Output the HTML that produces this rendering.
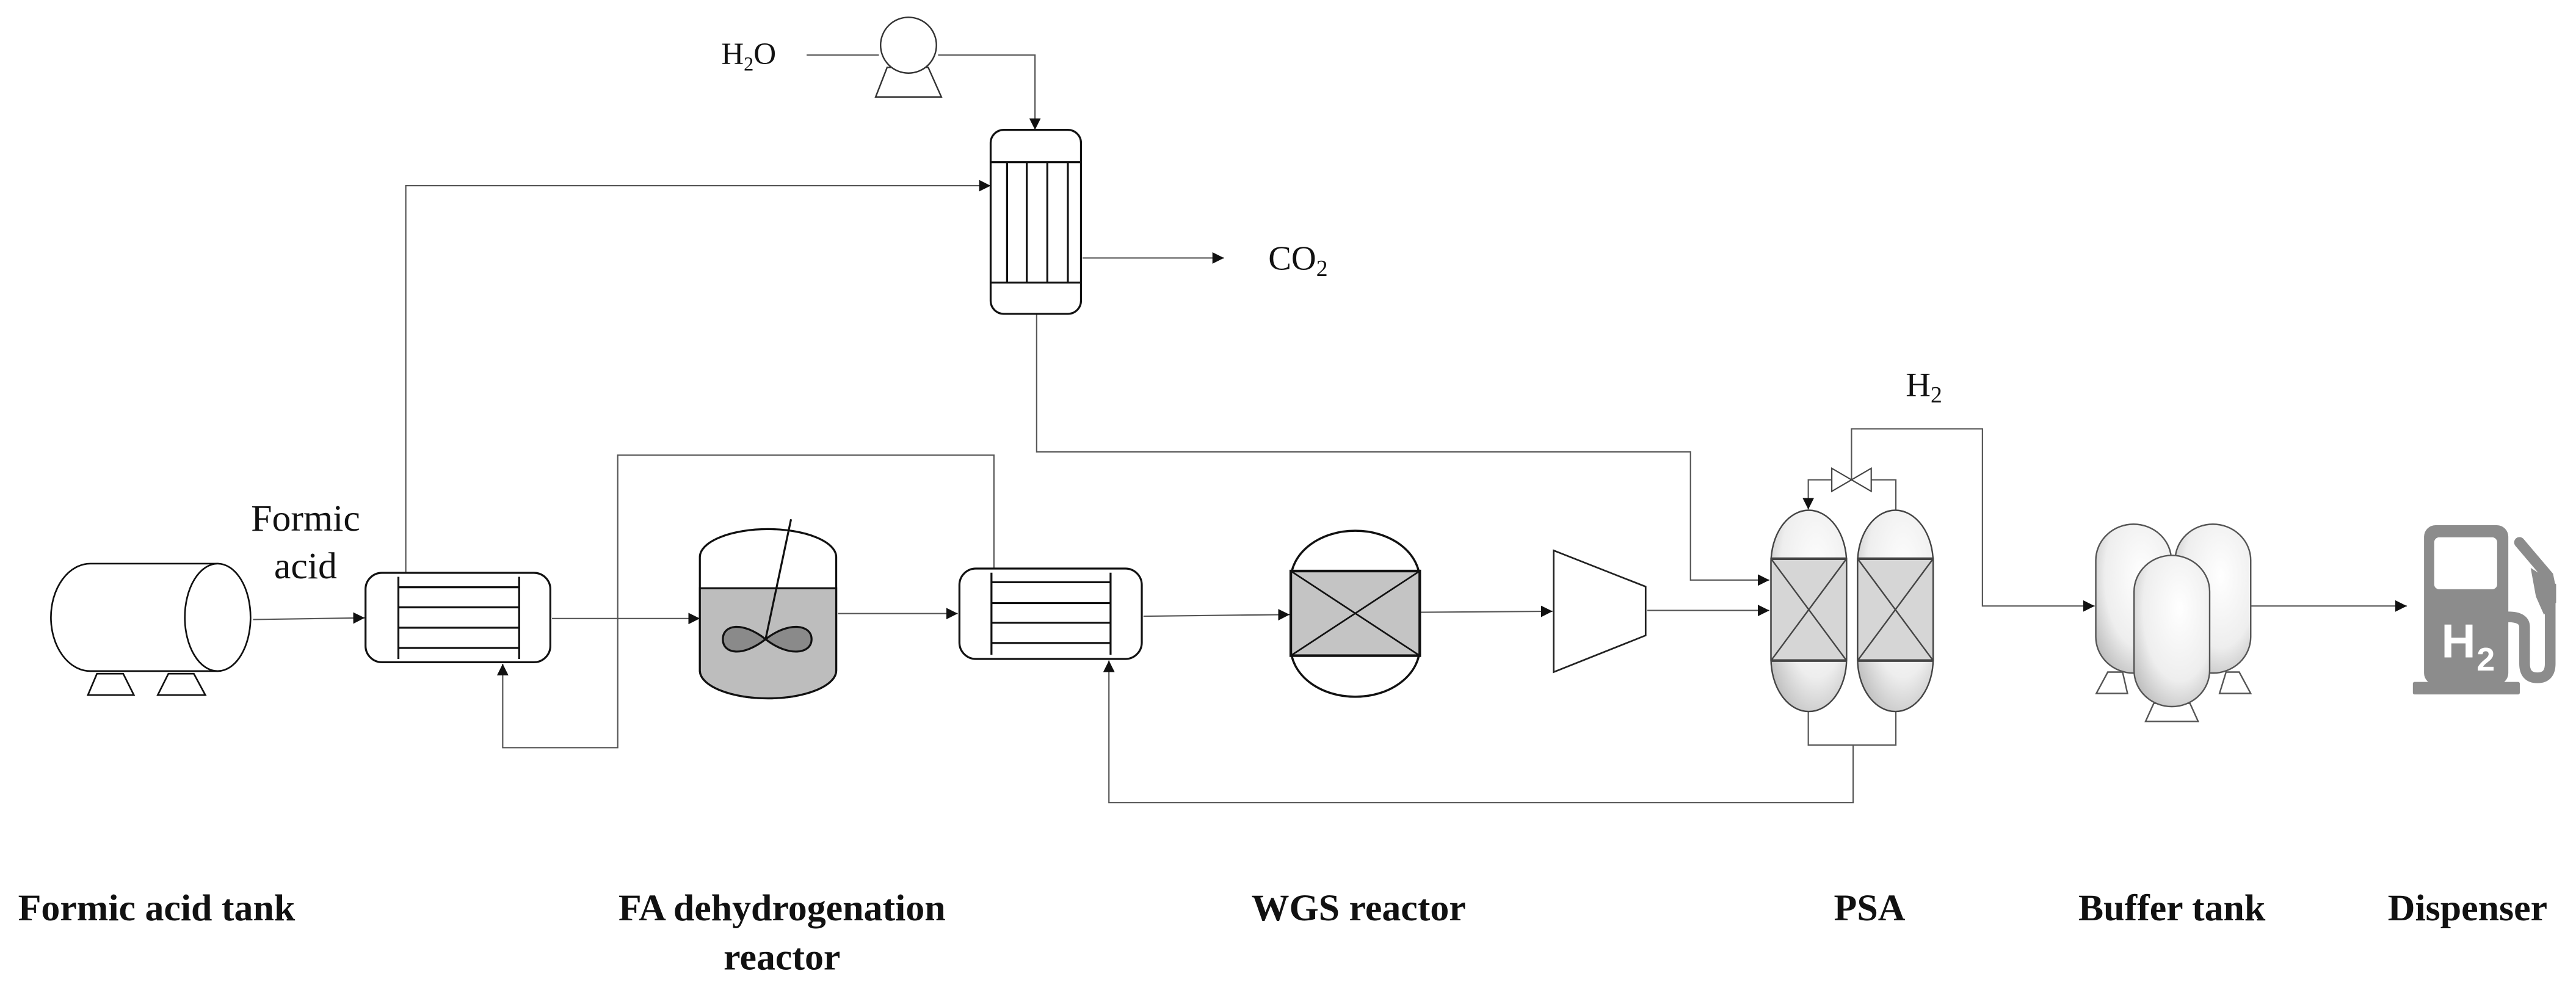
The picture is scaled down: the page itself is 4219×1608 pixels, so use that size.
<!DOCTYPE html>
<html><head><meta charset="utf-8"><style>html,body{margin:0;padding:0;background:#fff}svg{display:block}</style></head>
<body>
<svg width="4219" height="1608" viewBox="0 0 1568 597.6" xmlns="http://www.w3.org/2000/svg" font-family="'Liberation Serif',serif">
<defs>
<marker id="a" viewBox="0 0 10 10" refX="10" refY="5" markerWidth="7" markerHeight="7" markerUnits="userSpaceOnUse" orient="auto"><path d="M0,0L10,5L0,10z" fill="#111"/></marker>
<radialGradient id="g" cx="0.6" cy="0.35" r="0.8"><stop offset="0" stop-color="#fff"/><stop offset="0.6" stop-color="#eee"/><stop offset="1" stop-color="#b5b5b5"/></radialGradient>
</defs>
<rect width="1568" height="597.6" fill="#fff"/>
<g fill="none" stroke="#555" stroke-width="0.8">
<line x1="491" y1="33.5" x2="535" y2="33.5"/>
<polyline points="571,33.5 630,33.5 630,79" marker-end="url(#a)"/>
<polyline points="247,348 247,113 603,113" marker-end="url(#a)"/>
<line x1="659" y1="157" x2="745" y2="157" marker-end="url(#a)"/>
<polyline points="631,191 631,275 1029,275 1029,353 1077,353" marker-end="url(#a)"/>
<line x1="154" y1="377" x2="222" y2="376" marker-end="url(#a)"/>
<line x1="336" y1="376.4" x2="426" y2="376.4" marker-end="url(#a)"/>
<polyline points="605,346 605,277 376,277 376,455 306,455 306,404" marker-end="url(#a)"/>
<line x1="510" y1="373.4" x2="583" y2="373.4" marker-end="url(#a)"/>
<line x1="696" y1="375" x2="785" y2="374" marker-end="url(#a)"/>
<polyline points="1128,453.4 1128,488.4 675,488.4 675,402" marker-end="url(#a)"/>
<polyline points="1100.7,433 1100.7,453.4 1154,453.4 1154,433"/>
<line x1="865" y1="372.6" x2="945" y2="372" marker-end="url(#a)"/>
<line x1="1002.7" y1="371.5" x2="1077" y2="371.5" marker-end="url(#a)"/>
<polyline points="1115,292 1100.7,292 1100.7,310" marker-end="url(#a)"/>
<polyline points="1139,292 1154,292 1154,310.5"/>
<polyline points="1127,292 1127,261 1206.7,261 1206.7,368.8 1275,368.8" marker-end="url(#a)"/>
<line x1="1370" y1="368.8" x2="1465" y2="368.8" marker-end="url(#a)"/>
</g>
<g fill="#fff" stroke="#333" stroke-width="0.9">
<polygon points="540,41 565,41 573,59 533,59"/>
<circle cx="553" cy="27.5" r="17"/>
</g>
<g fill="#fff" stroke="#111" stroke-width="1.2">
<rect x="603" y="79" width="55" height="112" rx="8"/>
<line x1="603" y1="98.7" x2="658" y2="98.7"/><line x1="603" y1="172" x2="658" y2="172"/>
<line x1="613" y1="98.7" x2="613" y2="172"/><line x1="625" y1="98.7" x2="625" y2="172"/>
<line x1="637.5" y1="98.7" x2="637.5" y2="172"/><line x1="650" y1="98.7" x2="650" y2="172"/>
</g>
<g fill="#fff" stroke="#111" stroke-width="1">
<polygon points="59,410 75,410 81.5,423 53.5,423"/>
<polygon points="102.5,410 118,410 125,423 96,423"/>
<path d="M132.5,343 L55,343 A24,32.7 0 0 0 55,408.4 L132.5,408.4 Z"/>
<ellipse cx="132.5" cy="375.7" rx="20" ry="32.7"/>
</g>
<g fill="#fff" stroke="#111" stroke-width="1.2">
<rect x="222.5" y="348.6" width="112.5" height="54.4" rx="10"/>
<line x1="242.5" y1="351" x2="242.5" y2="401"/><line x1="316" y1="351" x2="316" y2="401"/>
<line x1="242.5" y1="357.4" x2="316" y2="357.4"/><line x1="242.5" y1="369.6" x2="316" y2="369.6"/>
<line x1="242.5" y1="382" x2="316" y2="382"/><line x1="242.5" y1="394.3" x2="316" y2="394.3"/>
</g>
<g fill="#fff" stroke="#111" stroke-width="1.2">
<rect x="584" y="346" width="111" height="55" rx="10"/>
<line x1="603.5" y1="348.5" x2="603.5" y2="398.5"/><line x1="676" y1="348.5" x2="676" y2="398.5"/>
<line x1="603.5" y1="354.3" x2="676" y2="354.3"/><line x1="603.5" y1="367" x2="676" y2="367"/>
<line x1="603.5" y1="379" x2="676" y2="379"/><line x1="603.5" y1="391.3" x2="676" y2="391.3"/>
</g>
<g stroke="#111" stroke-width="1.2">
<path d="M426,339 A41.5,17 0 0 1 509,339 L509,408 A41.5,17 0 0 1 426,408 Z" fill="#fff"/>
<path d="M426,358 L509,358 L509,408 A41.5,17 0 0 1 426,408 Z" fill="#bdbdbd"/>
<line x1="481.5" y1="316" x2="466" y2="389"/>
<path d="M466,389 C452,378 440,380 440,389 C440,398 452,400 466,389 C480,378 494,380 494,389 C494,398 480,400 466,389 Z" fill="#8a8a8a"/>
</g>
<g stroke="#111">
<rect x="785.7" y="323" width="78.5" height="101" rx="39" ry="30" fill="#fff" stroke-width="1.3"/>
<rect x="785.7" y="347.5" width="78.5" height="51.5" fill="#c4c4c4" stroke-width="1.6"/>
<line x1="785.7" y1="347.5" x2="864.2" y2="399" stroke-width="1"/><line x1="864.2" y1="347.5" x2="785.7" y2="399" stroke-width="1"/>
</g>
<polygon points="945.7,335 1001.7,357 1001.7,386.7 945.7,409" fill="#fff" stroke="#222" stroke-width="1"/>
<g stroke="#444" stroke-width="0.9">
<rect x="1078" y="310.5" width="46" height="122.5" rx="23" ry="32" fill="url(#g)"/>
<rect x="1078" y="340" width="46" height="62" fill="#d6d6d6"/>
<line x1="1078" y1="340" x2="1124" y2="340" stroke-width="1.6"/><line x1="1078" y1="402" x2="1124" y2="402" stroke-width="1.6"/>
<line x1="1078" y1="340" x2="1124" y2="402"/><line x1="1124" y1="340" x2="1078" y2="402"/>
<rect x="1130.7" y="310.5" width="46" height="122.5" rx="23" ry="32" fill="url(#g)"/>
<rect x="1130.7" y="340" width="46" height="62" fill="#d6d6d6"/>
<line x1="1130.7" y1="340" x2="1176.7" y2="340" stroke-width="1.6"/><line x1="1130.7" y1="402" x2="1176.7" y2="402" stroke-width="1.6"/>
<line x1="1130.7" y1="340" x2="1176.7" y2="402"/><line x1="1176.7" y1="340" x2="1130.7" y2="402"/>
<polygon points="1115,285 1139,299 1139,285 1115,299" fill="#fff" stroke-width="0.8"/>
</g>
<g stroke="#555" stroke-width="0.9" fill="#fff">
<polygon points="1283,409 1292,409 1295,422 1276,422"/>
<polygon points="1355,409 1363,409 1370,422 1351,422"/>
<polygon points="1311,428 1333,428 1338,439 1306,439"/>
<rect x="1275.7" y="319" width="46" height="90.6" rx="23" ry="22" fill="url(#g)"/>
<rect x="1324" y="319" width="46" height="90.6" rx="23" ry="22" fill="url(#g)"/>
<rect x="1299" y="338" width="46" height="92" rx="23" ry="22" fill="url(#g)"/>
</g>
<g fill="#8c8c8c">
<rect x="1475.5" y="319.6" width="51.3" height="97" rx="7"/>
<rect x="1468.7" y="415" width="65.1" height="7.6" rx="1"/>
<polygon points="1540.4,345.6 1555.9,355.5 1555.9,366.7 1548.5,374.1 1543.6,363"/>
</g>
<rect x="1481.7" y="327" width="38.3" height="31.6" rx="3" fill="#fff"/>
<path d="M1533.6,330.1 L1551,350.6 L1552.3,357 L1552.3,403.9 Q1552.3,412.5 1544.5,412.5 Q1536.7,412.5 1536.7,403.9 L1536.7,381.6 Q1536.7,375.4 1526.8,375.4" fill="none" stroke="#8c8c8c" stroke-width="6.5" stroke-linecap="round"/>
<text x="1486" y="400" font-family="'Liberation Sans',sans-serif" font-weight="bold" font-size="29" fill="#fff">H</text>
<text x="1507.5" y="408" font-family="'Liberation Sans',sans-serif" font-weight="bold" font-size="20" fill="#fff">2</text>
<g font-size="19" fill="#111">
<text x="439" y="39">H<tspan font-size="12" dy="4">2</tspan><tspan dy="-4">O</tspan></text>
<text x="772" y="164" font-size="21">CO<tspan font-size="14" dy="4">2</tspan></text>
<text x="1160" y="241" font-size="21">H<tspan font-size="14" dy="4">2</tspan></text>
<text x="186" y="323" text-anchor="middle" font-size="23">Formic</text>
<text x="186" y="352" text-anchor="middle" font-size="23">acid</text>
</g>
<g font-size="23" font-weight="bold" fill="#111">
<text x="11" y="560">Formic acid tank</text>
<text x="476" y="560" text-anchor="middle">FA dehydrogenation</text>
<text x="476" y="590" text-anchor="middle">reactor</text>
<text x="827" y="560" text-anchor="middle">WGS reactor</text>
<text x="1138" y="560" text-anchor="middle">PSA</text>
<text x="1322" y="560" text-anchor="middle">Buffer tank</text>
<text x="1502" y="560" text-anchor="middle">Dispenser</text>
</g>
</svg>
</body></html>
